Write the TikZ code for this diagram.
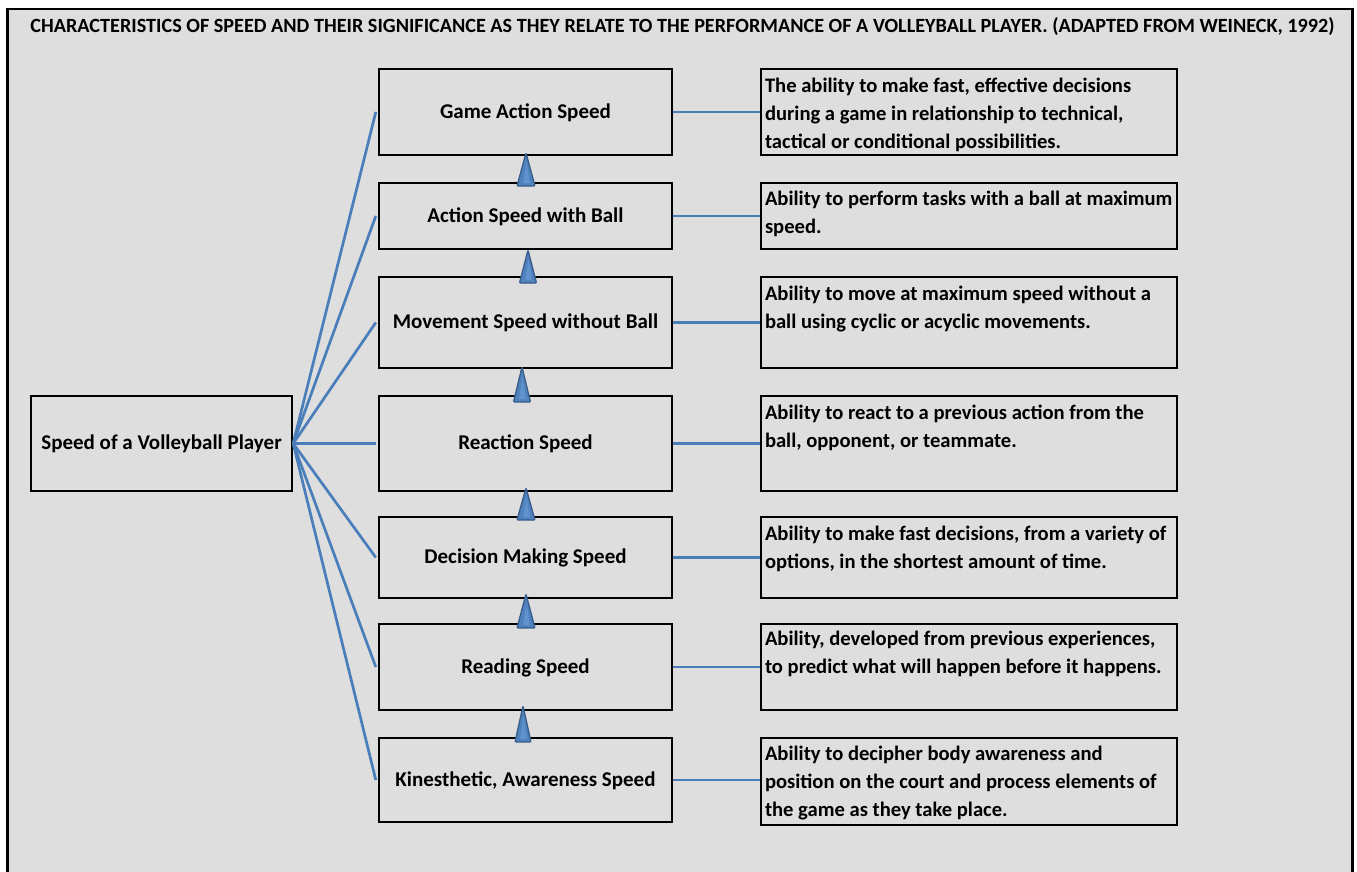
\documentclass[tikz,border=0pt]{standalone}
\usepackage{fontspec}
\setmainfont{Carlito}
\usetikzlibrary{calc}

\definecolor{panel}{RGB}{222,222,222}
\definecolor{link}{RGB}{74,126,187}
\definecolor{conefill}{RGB}{79,129,189}
\definecolor{coneedge}{RGB}{56,93,138}
\definecolor{conelight}{RGB}{96,146,206}

\tikzset{
  box/.style={draw=black, line width=2.4pt, rectangle, inner sep=0pt,
    font=\bfseries\fontsize{21}{25}\selectfont, align=center,
    text height=14pt, text depth=1.5pt},
  levelbox/.style={box, minimum width=293pt},
  descbox/.style={box, minimum width=416pt},
  desctext/.style={anchor=north west, inner sep=0pt, align=left,
    font=\bfseries\fontsize{20.6}{28}\selectfont},
  linkline/.style={draw=link, line width=2.7pt},
}

% upward cone between two stacked boxes: tip x, tip y, base y, half width
\newcommand{\upcone}[4]{%
  \filldraw[fill=conefill, draw=coneedge, line width=1.3pt, rounded corners=1pt]
    (#1,#2) -- (#1-#4,#3) -- (#1+#4,#3) -- cycle;
  \fill[conelight] (#1+0.5,#2+10) -- (#1-3,#3-3) -- (#1+4,#3-3) -- cycle;
}

\begin{document}
\begin{tikzpicture}[x=1pt,y=-1pt]
\useasboundingbox (0,0) rectangle (1357,872);
\fill[white] (0,0) rectangle (1357,872);
\draw[line width=2.8pt, fill=panel] (7.5,9) rectangle (1352.5,890);

\node[font=\bfseries\fontsize{20.2}{24}\selectfont] (title) at (682.5,27)
  {CHARACTERISTICS OF SPEED AND THEIR SIGNIFICANCE AS THEY RELATE TO THE PERFORMANCE OF A VOLLEYBALL PLAYER. (ADAPTED FROM WEINECK, 1992)};

% root
\node[box, minimum width=261pt, minimum height=95pt] (root) at (161.5,443.5) {Speed of a Volleyball Player};

% levels of speed
\node[levelbox, minimum height=86pt] (m1) at (525.5,112)   {Game Action Speed};
\node[levelbox, minimum height=66pt] (m2) at (525.5,216)   {Action Speed with Ball};
\node[levelbox, minimum height=91pt] (m3) at (525.5,322.5) {Movement Speed without Ball};
\node[levelbox, minimum height=95pt] (m4) at (525.5,443.5) {Reaction Speed};
\node[levelbox, minimum height=81pt] (m5) at (525.5,557.5) {Decision Making Speed};
\node[levelbox, minimum height=86pt] (m6) at (525.5,667)   {Reading Speed};
\node[levelbox, minimum height=84pt] (m7) at (525.5,780)   {Kinesthetic, Awareness Speed};

% descriptions
\node[descbox, minimum height=86pt] (r1) at (969,112)   {};
\node[descbox, minimum height=66pt] (r2) at (969,216)   {};
\node[descbox, minimum height=91pt] (r3) at (969,322.5) {};
\node[descbox, minimum height=95pt] (r4) at (969,443.5) {};
\node[descbox, minimum height=81pt] (r5) at (969,557.5) {};
\node[descbox, minimum height=86pt] (r6) at (969,667)   {};
\node[descbox, minimum height=87pt] (r7) at (969,781.5) {};

\node[desctext] (t1) at ($(r1.north west)+(5,10)$) {The ability to make fast, effective decisions\\during a game in relationship to technical,\\tactical or conditional possibilities.};
\node[desctext] (t2) at ($(r2.north west)+(5,9)$) {Ability to perform tasks with a ball at maximum\\speed.};
\node[desctext] (t3) at ($(r3.north west)+(5,10)$) {Ability to move at maximum speed without a\\ball using cyclic or acyclic movements.};
\node[desctext] (t4) at ($(r4.north west)+(5,10)$) {Ability to react to a previous action from the\\ball, opponent, or teammate.};
\node[desctext] (t5) at ($(r5.north west)+(5,10)$) {Ability to make fast decisions, from a variety of\\options, in the shortest amount of time.};
\node[desctext] (t6) at ($(r6.north west)+(5,8)$) {Ability, developed from previous experiences,\\to predict what will happen before it happens.};
\node[desctext] (t7) at ($(r7.north west)+(5,9)$) {Ability to decipher body awareness and\\position on the court and process elements of\\the game as they take place.};

% fan of links from the root
\foreach \m in {m1,m2,m3,m4,m5,m6,m7}
  \draw[linkline] (root.east) -- ($(\m.west)+(-2,0)$);

% links to the descriptions
\foreach \i in {1,...,7}
  \draw[linkline] (m\i.east) -- (m\i.east -| r\i.west);

% cones pointing up the chain
\upcone{526}{153}{186}{9}
\upcone{528}{250}{283}{8.5}
\upcone{522}{367}{402}{8.5}
\upcone{526}{488}{520}{9}
\upcone{526}{594}{628}{9}
\upcone{523}{706}{742}{8}
\end{tikzpicture}
\end{document}
